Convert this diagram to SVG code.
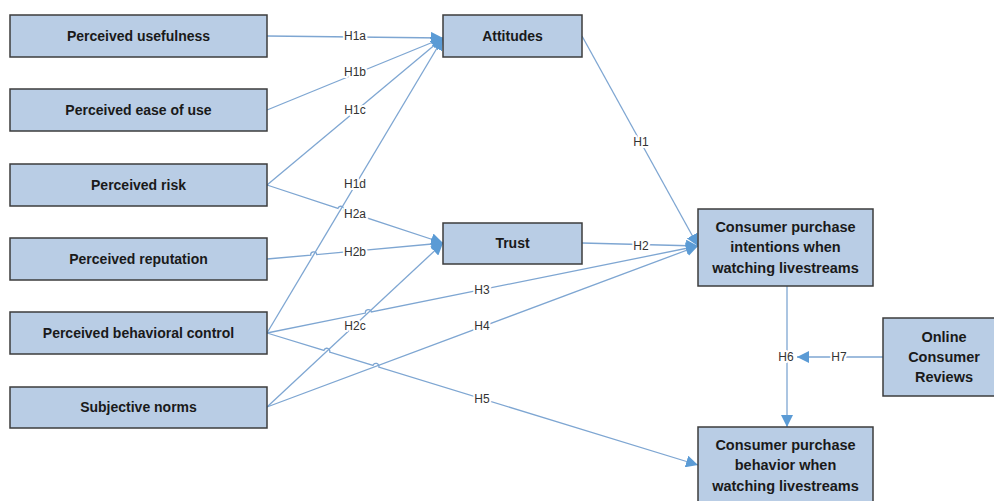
<svg xmlns="http://www.w3.org/2000/svg" width="994" height="501" viewBox="0 0 994 501">
<defs>
<marker id="ah" markerUnits="userSpaceOnUse" markerWidth="13" markerHeight="12" refX="12" refY="6" orient="auto">
<path d="M0,0 L12,6 L0,12 z" fill="#5b9bd5"/>
</marker>
<style>
.box{fill:#b9cde5;stroke:#3c3c3c;stroke-width:1.5}
.bt{font-family:"Liberation Sans",Arial,sans-serif;font-weight:bold;font-size:14px;fill:#1a1a1a;text-anchor:middle}
.bt2{font-family:"Liberation Sans",Arial,sans-serif;font-weight:bold;font-size:14.5px;fill:#1a1a1a;text-anchor:middle}
.ln{fill:none;stroke:#7ea6d2;stroke-width:1.3}
.ar{marker-end:url(#ah)}
.lb{font-family:"Liberation Sans",Arial,sans-serif;font-size:12px;fill:#333;text-anchor:middle;stroke:#fff;stroke-width:4;paint-order:stroke;stroke-linejoin:round}
</style>
</defs>
<rect width="994" height="501" fill="#fff"/>
<g id="connectors">
<path class="ln ar" d="M267,36 L443,38"/>
<path class="ln ar" d="M267,110 L443,38"/>
<path class="ln ar" d="M267,185 L443,38"/>
<path class="ln ar" d="M267,333 L443,38"/>
<path class="ln ar" d="M267,185 L337.95,208.36 A3,3 0 0 1 343.65,210.24 L443,243"/>
<path class="ln ar" d="M267,259 L310.71,255.07 A3,3 0 0 1 316.69,254.53 L443,243"/>
<path class="ln ar" d="M267,407 L443,243"/>
<path class="ln ar" d="M582,36 L698,246"/>
<path class="ln ar" d="M582,243 L698,246"/>
<path class="ln ar" d="M267,333 L365.46,313.09 A3,3 0 0 1 371.34,311.91 L698,246"/>
<path class="ln ar" d="M267,407 L698,246"/>
<path class="ln ar" d="M267,333 L323.93,350.42 A3,3 0 0 1 329.67,352.18 L373.03,365.42 A3,3 0 0 1 378.77,367.18 L698,465"/>
<path class="ln ar" d="M787,286 L787,427"/>
<path class="ln ar" d="M883,357 L797,357"/>
<text class="lb" x="355" y="40">H1a</text>
<text class="lb" x="355" y="76">H1b</text>
<text class="lb" x="355" y="114">H1c</text>
<text class="lb" x="355" y="188">H1d</text>
<text class="lb" x="355" y="218">H2a</text>
<text class="lb" x="355" y="256">H2b</text>
<text class="lb" x="355" y="330">H2c</text>
<text class="lb" x="641" y="146">H1</text>
<text class="lb" x="641" y="250">H2</text>
<text class="lb" x="482" y="294">H3</text>
<text class="lb" x="482" y="330">H4</text>
<text class="lb" x="482" y="403">H5</text>
<text class="lb" x="786" y="361">H6</text>
<text class="lb" x="839" y="361">H7</text>
</g>
<g id="n1"><rect class="box" x="10" y="15" width="257" height="42"/><text class="bt" x="138.5" y="41">Perceived usefulness</text></g>
<g id="n2"><rect class="box" x="10" y="89" width="257" height="42"/><text class="bt" x="138.5" y="115">Perceived ease of use</text></g>
<g id="n3"><rect class="box" x="10" y="164" width="257" height="42"/><text class="bt" x="138.5" y="190">Perceived risk</text></g>
<g id="n4"><rect class="box" x="10" y="238" width="257" height="42"/><text class="bt" x="138.5" y="264">Perceived reputation</text></g>
<g id="n5"><rect class="box" x="10" y="312" width="257" height="42"/><text class="bt" x="138.5" y="338">Perceived behavioral control</text></g>
<g id="n6"><rect class="box" x="10" y="387" width="257" height="41"/><text class="bt" x="138.5" y="412">Subjective norms</text></g>
<g id="attitudes"><rect class="box" x="443" y="15" width="139" height="42"/><text class="bt" x="512.5" y="41">Attitudes</text></g>
<g id="trust"><rect class="box" x="443" y="223" width="139" height="41"/><text class="bt" x="512.5" y="248">Trust</text></g>
<g id="intentions"><rect class="box" x="698" y="209" width="175" height="77"/><text class="bt2" x="785.5" y="232">Consumer purchase</text><text class="bt2" x="785.5" y="252">intentions when</text><text class="bt2" x="785.5" y="273">watching livestreams</text></g>
<g id="reviews"><rect class="box" x="883" y="318" width="120" height="78"/><text class="bt2" x="944" y="342">Online</text><text class="bt2" x="944" y="362">Consumer</text><text class="bt2" x="944" y="382">Reviews</text></g>
<g id="behavior"><rect class="box" x="698" y="427" width="175" height="80"/><text class="bt2" x="785.5" y="450">Consumer purchase</text><text class="bt2" x="785.5" y="470">behavior when</text><text class="bt2" x="785.5" y="491">watching livestreams</text></g>
</svg>
